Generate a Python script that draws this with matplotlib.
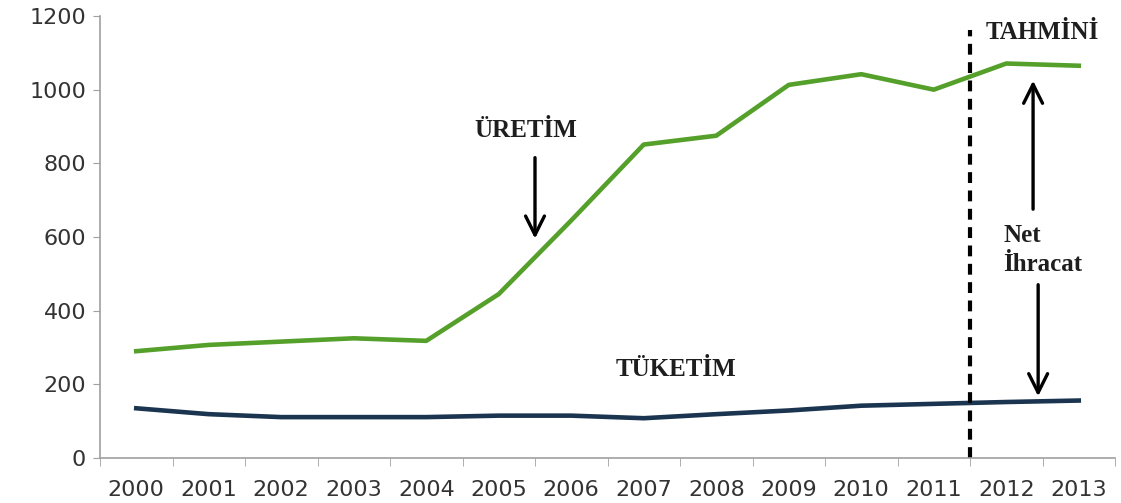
import numpy as np
import matplotlib
matplotlib.use('Agg')
import matplotlib.pyplot as plt

# data
years = ['2000', '2001', '2002', '2003', '2004', '2005', '2006',
         '2007', '2008', '2009', '2010', '2011', '2012', '2013']
uretim = [290, 307, 316, 325, 318, 445, 645, 851, 875, 1013, 1042, 1000, 1071, 1065]
tuketim = [135, 119, 111, 111, 111, 115, 115, 108, 119, 129, 142, 147, 152, 156]
y_ticks = [0, 200, 400, 600, 800, 1000, 1200]

green = '#55a02a'
navy = '#1b3550'
axis_gray = '#a0a0a0'
txt = '#1e1e1e'

fig = plt.figure(figsize=(11.21, 5.03), dpi=100)
ax = fig.add_axes([100 / 1121, 45 / 503, 1015 / 1121, 442 / 503])

x = np.arange(len(years))
ax.plot(x, uretim, color=green, lw=3.3)
ax.plot(x, tuketim, color=navy, lw=3.3)

ax.set_xlim(-0.5, len(years) - 0.5)
ax.set_ylim(0, 1200)
ax.set_yticks(y_ticks)
ax.set_yticklabels([str(v) for v in y_ticks], fontsize=16, color='#333333')
ax.set_xticks(x)
ax.set_xticklabels(years, fontsize=16, color='#333333')
ax.tick_params(axis='x', length=0, pad=16)
ax.tick_params(axis='y', length=5, color=axis_gray, pad=5)
ax.set_xticks(np.arange(-0.5, len(years)), minor=True)
ax.tick_params(axis='x', which='minor', length=6, color=axis_gray)

for s in ['top', 'right']:
    ax.spines[s].set_visible(False)
for s in ['left', 'bottom']:
    ax.spines[s].set_color(axis_gray)
    ax.spines[s].set_linewidth(1.2)

# forecast separator
ax.plot([11.5, 11.5], [0, 1162], color='black', lw=3, ls=(0, (2.6, 1.8)), clip_on=False)

font = dict(family='Liberation Serif', fontweight='bold', color=txt)
ax.text(12.5, 1155, 'TAHMİNİ', fontsize=18, ha='center', va='center', **font)
ax.text(5.37, 888, 'ÜRETİM', fontsize=18, ha='center', va='center', **font)
ax.text(7.45, 239, 'TÜKETİM', fontsize=18, ha='center', va='center', **font)
ax.text(11.96, 565, 'Net\nİhracat', fontsize=18, ha='left', va='center',
        linespacing=1.3, **font)

arrow = dict(arrowstyle='->', color='black', lw=2.4, mutation_scale=34)
ax.annotate('', xy=(5.5, 588), xytext=(5.5, 823), arrowprops=arrow)
ax.annotate('', xy=(12.37, 1032), xytext=(12.37, 668), arrowprops=arrow)
ax.annotate('', xy=(12.44, 160), xytext=(12.44, 478), arrowprops=arrow)

fig.savefig('out.png', dpi=100)
